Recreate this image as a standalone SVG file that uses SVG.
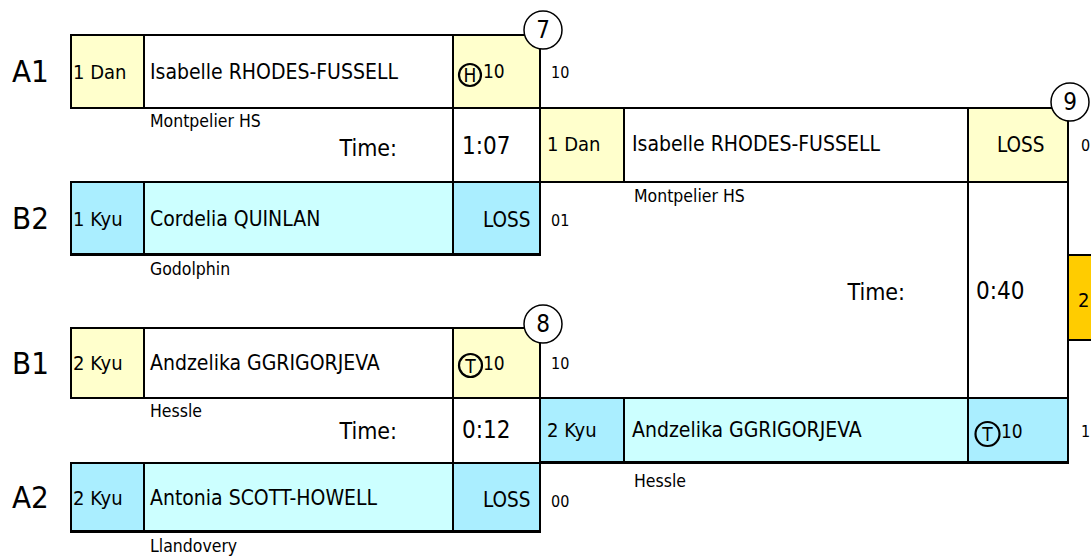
<svg xmlns="http://www.w3.org/2000/svg" width="1091" height="557" viewBox="0 0 1091 557">
<style>
text{font-family:'DejaVu Sans Condensed','DejaVu Sans',sans-serif;fill:#000}
.c{stroke:#000;stroke-width:2}
.y{fill:#ffffcc}
.w{fill:#ffffff}
.b{fill:#aaeeff}
.bn{fill:#ccffff}
.g{fill:#ffcc00}
.lbl{font-size:31px}
.rank{font-size:20px}
.name{font-size:21px}
.club{font-size:17.5px}
.time{font-size:23px;text-anchor:end}
.tval{font-size:24px}
.loss{font-size:20.5px}
.pts{font-size:19px}
.side{font-size:16px}
.num{font-size:24px;text-anchor:middle}
.bd{font-size:19px;text-anchor:middle}
.ring{fill:none;stroke:#000;stroke-width:2.2}
.mc{fill:#fff;stroke:#000;stroke-width:1.5}
</style>
<rect width="1091" height="557" fill="#fff"/>

<g id="labels">
<text class="lbl" x="12" y="82">A1</text>
<text class="lbl" x="12" y="229">B2</text>
<text class="lbl" x="12" y="374">B1</text>
<text class="lbl" x="12" y="508">A2</text>
</g>

<g id="connectors">
<line class="c" x1="453" y1="108" x2="453" y2="182"/>
<line class="c" x1="540" y1="108" x2="540" y2="182"/>
<line class="c" x1="453" y1="398" x2="453" y2="463"/>
<line class="c" x1="968" y1="182" x2="968" y2="398"/>
<line class="c" x1="1068" y1="182" x2="1068" y2="398"/>
</g>

<g id="match7">
<g id="m7-a1">
<rect class="c y" x="71" y="35" width="73" height="73"/>
<rect class="c w" x="144" y="35" width="309" height="73"/>
<rect class="c y" x="453" y="35" width="87" height="73"/>
<text class="rank" x="73" y="79">1 Dan</text>
<text class="name" x="150" y="79">Isabelle RHODES-FUSSELL</text>
<circle class="ring" cx="470" cy="75" r="11"/>
<text class="bd" x="470" y="82">H</text>
<text class="pts" x="483" y="78">10</text>
<text class="side" x="551" y="78">10</text>
<text class="club" x="150" y="127">Montpelier HS</text>
</g>
<g id="m7-time">
<text class="time" x="397" y="156">Time:</text>
<text class="tval" x="462" y="154">1:07</text>
</g>
<g id="m7-b2">
<rect class="c b" x="71" y="182" width="73" height="73"/>
<rect class="c bn" x="144" y="182" width="309" height="73"/>
<rect class="c b" x="453" y="182" width="87" height="73"/>
<rect x="71" y="253" width="469" height="2.5" fill="#000"/>
<text class="rank" x="73" y="226">1 Kyu</text>
<text class="name" x="150" y="226">Cordelia QUINLAN</text>
<text class="loss" x="483" y="227">LOSS</text>
<text class="side" x="551" y="226">01</text>
<text class="club" x="150" y="275">Godolphin</text>
</g>
<circle class="mc" cx="543" cy="30" r="19"/>
<text class="num" x="543" y="38">7</text>
</g>

<g id="match8">
<g id="m8-b1">
<rect class="c y" x="71" y="328" width="73" height="70"/>
<rect class="c w" x="144" y="328" width="309" height="70"/>
<rect class="c y" x="453" y="328" width="87" height="70"/>
<text class="rank" x="73" y="370">2 Kyu</text>
<text class="name" x="150" y="370">Andzelika GGRIGORJEVA</text>
<circle class="ring" cx="470.5" cy="365.5" r="11.5"/>
<text class="bd" x="470.5" y="372.5">T</text>
<text class="pts" x="483" y="370">10</text>
<text class="side" x="551" y="369">10</text>
<text class="club" x="150" y="417">Hessle</text>
</g>
<g id="m8-time">
<text class="time" x="397" y="439">Time:</text>
<text class="tval" x="462" y="438">0:12</text>
</g>
<g id="m8-a2">
<rect class="c b" x="71" y="463" width="73" height="69"/>
<rect class="c bn" x="144" y="463" width="309" height="69"/>
<rect class="c b" x="453" y="463" width="87" height="69"/>
<rect x="71" y="530" width="469" height="2.5" fill="#000"/>
<text class="rank" x="73" y="505">2 Kyu</text>
<text class="name" x="150" y="505">Antonia SCOTT-HOWELL</text>
<text class="loss" x="483" y="507">LOSS</text>
<text class="side" x="551" y="507">00</text>
<text class="club" x="150" y="552">Llandovery</text>
</g>
<circle class="mc" cx="543" cy="324" r="19"/>
<text class="num" x="543" y="332">8</text>
</g>

<g id="match9">
<g id="m9-top">
<rect class="c y" x="540" y="108" width="84" height="74"/>
<rect class="c w" x="624" y="108" width="344" height="74"/>
<rect class="c y" x="968" y="108" width="100" height="74"/>
<text class="rank" x="547" y="151">1 Dan</text>
<text class="name" x="632" y="151">Isabelle RHODES-FUSSELL</text>
<text class="loss" x="997" y="152">LOSS</text>
<text class="side" x="1081" y="151">0</text>
<text class="club" x="634" y="202">Montpelier HS</text>
</g>
<g id="m9-time">
<text class="time" x="905" y="300">Time:</text>
<text class="tval" x="976" y="299">0:40</text>
</g>
<g id="m9-bottom">
<rect class="c b" x="540" y="398" width="84" height="65"/>
<rect class="c bn" x="624" y="398" width="344" height="65"/>
<rect class="c b" x="968" y="398" width="100" height="65"/>
<rect x="540" y="461" width="529" height="2.5" fill="#000"/>
<text class="rank" x="547" y="437">2 Kyu</text>
<text class="name" x="632" y="437">Andzelika GGRIGORJEVA</text>
<circle class="ring" cx="987.5" cy="434" r="12"/>
<text class="bd" x="987.5" y="441">T</text>
<text class="pts" x="1001" y="438">10</text>
<text class="side" x="1081" y="437">11</text>
<text class="club" x="634" y="487">Hessle</text>
</g>
<circle class="mc" cx="1070" cy="102" r="19"/>
<text class="num" x="1070" y="110">9</text>
</g>

<g id="final">
<rect class="c g" x="1068" y="255" width="30" height="85"/>
<text class="rank" x="1078" y="307">2</text>
</g>
</svg>
